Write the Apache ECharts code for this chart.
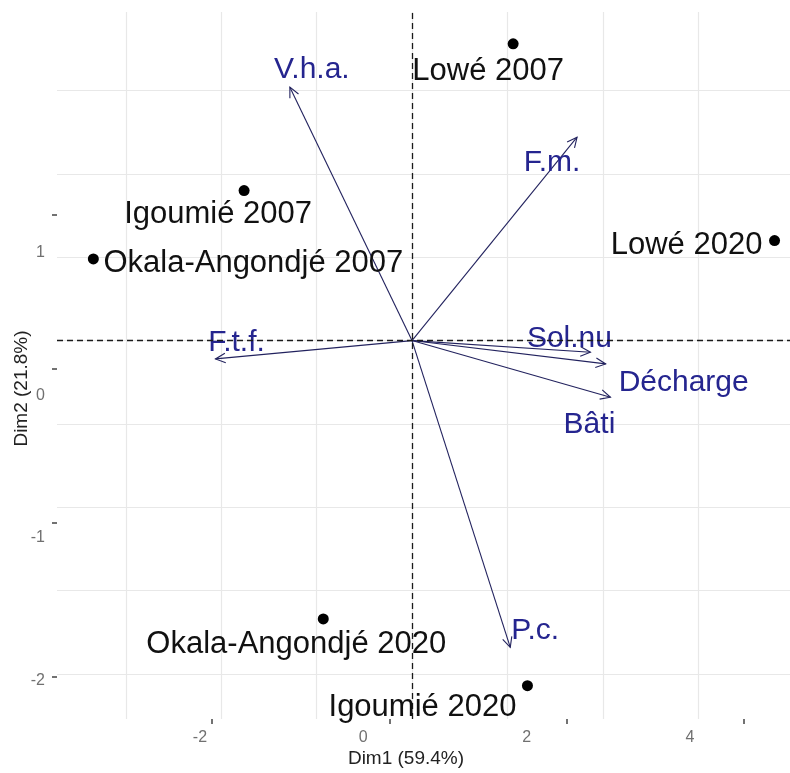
<!DOCTYPE html>
<html>
<head>
<meta charset="utf-8">
<script src="https://cdn.jsdelivr.net/npm/echarts@6/dist/echarts.min.js"></script>
<style>
html,body{margin:0;padding:0;background:#fff;}
#chart{width:790px;height:773px;}
</style>
</head>
<body>
<div id="chart"></div>
<script>
// ---- data ----
const individuals = ['Lowé 2007', 'Igoumié 2007', 'Okala-Angondjé 2007', 'Lowé 2020', 'Okala-Angondjé 2020', 'Igoumié 2020'];
const indDim1 = [1.06, -1.76, -3.34, 3.80, -0.93, 1.21];
const indDim2 = [1.78, 0.90, 0.49, 0.60, -1.67, -2.07];

const variables = ['V.h.a.', 'F.m.', 'F.t.f.', 'Sol.nu', 'Décharge', 'Bâti', 'P.c.'];
const varDim1 = [-1.28, 1.73, -2.06, 1.87, 2.03, 2.08, 1.03];
const varDim2 = [1.52, 1.22, -0.11, -0.07, -0.14, -0.34, -1.84];

const xTickLabels = [-2, 0, 2, 4];
const yTickLabels = [-2, -1, 0, 1];
const xGridValues = [-3, -2, -1, 0, 1, 2, 3];
const yGridValues = [-2, -1.5, -1, -0.5, 0, 0.5, 1, 1.5];

// ---- layout (label offsets in px, not data) ----
const indLabelOffsets = [[-25, 28], [-26, 24], [160, 5], [-88, 5], [-27, 25], [-105, 22]];
const varLabelOffsets = [[22, -17], [-25, 26], [21, -16], [-21, -14], [78, 19], [-21, 27], [25, -17]];

const FONT = '"Liberation Sans", Arial, sans-serif';
const VAR_COLOR = '#25258f';
const ARROW_COLOR = '#22225e';

const chart = echarts.init(document.getElementById('chart'), null, {renderer: 'canvas'});

const indData = individuals.map((n, i) => ({
  name: n,
  value: [indDim1[i], indDim2[i]],
  label: {offset: indLabelOffsets[i]}
}));
const varData = variables.map((n, i) => ({name: n, value: [varDim1[i], varDim2[i]]}));

const option = {
  animation: false,
  backgroundColor: '#ffffff',
  grid: {left: 57, right: 0, top: 12, bottom: 51, containLabel: false},
  xAxis: [
    {
      type: 'value', min: -3.721, max: 3.962,
      axisLine: {show: false, onZero: false},
      axisTick: {show: false, customValues: xGridValues},
      axisLabel: {show: false},
      splitLine: {show: true, lineStyle: {color: '#e8e8e8', width: 1.2}},
      name: 'Dim1 (59.4%)', nameLocation: 'middle', nameGap: 30,
      nameTextStyle: {fontSize: 19, color: '#222', fontFamily: FONT, padding: [0, 35, 0, 0]}
    },
    {
      type: 'value', min: -3.750, max: 5.225, position: 'bottom',
      axisLine: {show: false, onZero: false},
      splitLine: {show: false},
      axisTick: {show: false},
      axisLabel: {show: true, customValues: xTickLabels, margin: 11, fontSize: 16, color: '#707070', fontFamily: FONT}
    },
    {
      type: 'value', min: -3.748, max: 4.519, position: 'bottom',
      axisLine: {show: false, onZero: false},
      splitLine: {show: false},
      axisTick: {show: true, customValues: xTickLabels, length: 5, lineStyle: {color: '#444', width: 1.5}},
      axisLabel: {show: false}
    }
  ],
  yAxis: [
    {
      type: 'value', min: -2.270, max: 1.971,
      axisLine: {show: false, onZero: false},
      axisTick: {show: false, customValues: yGridValues},
      axisLabel: {show: false},
      splitLine: {show: true, lineStyle: {color: '#e8e8e8', width: 1.2}},
      name: 'Dim2 (21.8%)', nameLocation: 'middle', nameGap: 26,
      nameTextStyle: {fontSize: 19, color: '#222', fontFamily: FONT, padding: [0, 46, 0, 0]}
    },
    {
      type: 'value', min: -2.268, max: 2.687, position: 'left',
      axisLine: {show: false, onZero: false},
      splitLine: {show: false},
      axisTick: {show: false},
      axisLabel: {show: true, customValues: yTickLabels, margin: 12, fontSize: 16, color: '#707070', fontFamily: FONT}
    },
    {
      type: 'value', min: -2.275, max: 2.314, position: 'left',
      axisLine: {show: false, onZero: false},
      splitLine: {show: false},
      axisTick: {show: true, customValues: yTickLabels, length: 5, lineStyle: {color: '#444', width: 1.5}},
      axisLabel: {show: false}
    }
  ],
  series: [
    {
      type: 'line', data: [], xAxisIndex: 0, yAxisIndex: 0, z: 3,
      markLine: {
        silent: true, symbol: ['none', 'none'], label: {show: false},
        lineStyle: {color: '#1a1a1a', type: [6, 4], width: 1.3},
        emphasis: {disabled: true},
        data: [{xAxis: 0}, {yAxis: 0}]
      }
    },
    {
      type: 'custom', xAxisIndex: 0, yAxisIndex: 0, z: 4,
      data: varData,
      renderItem: function (params, api) {
        const o = api.coord([0, 0]);
        const e = api.coord([api.value(0), api.value(1)]);
        const ang = Math.atan2(e[1] - o[1], e[0] - o[0]);
        const L = 11, a = Math.PI / 7;
        const p1 = [e[0] - L * Math.cos(ang - a), e[1] - L * Math.sin(ang - a)];
        const p2 = [e[0] - L * Math.cos(ang + a), e[1] - L * Math.sin(ang + a)];
        const off = varLabelOffsets[params.dataIndex];
        return {
          type: 'group',
          children: [
            {type: 'line', shape: {x1: o[0], y1: o[1], x2: e[0], y2: e[1]}, style: {stroke: ARROW_COLOR, lineWidth: 1.1}},
            {type: 'polyline', shape: {points: [p1, e, p2]}, style: {stroke: ARROW_COLOR, fill: null, lineWidth: 1.1}},
            {type: 'text', x: e[0] + off[0], y: e[1] + off[1],
              style: {text: variables[params.dataIndex], fill: VAR_COLOR, fontSize: 30, fontFamily: FONT, align: 'center', verticalAlign: 'middle'}}
          ]
        };
      }
    },
    {
      type: 'scatter', xAxisIndex: 0, yAxisIndex: 0, z: 5,
      symbol: 'circle', symbolSize: 11,
      itemStyle: {color: '#000', opacity: 1},
      label: {
        show: true, position: 'inside', formatter: '{b}',
        fontSize: 31, color: '#111', fontFamily: FONT
      },
      data: indData
    }
  ]
};
chart.setOption(option);
</script>
</body>
</html>
